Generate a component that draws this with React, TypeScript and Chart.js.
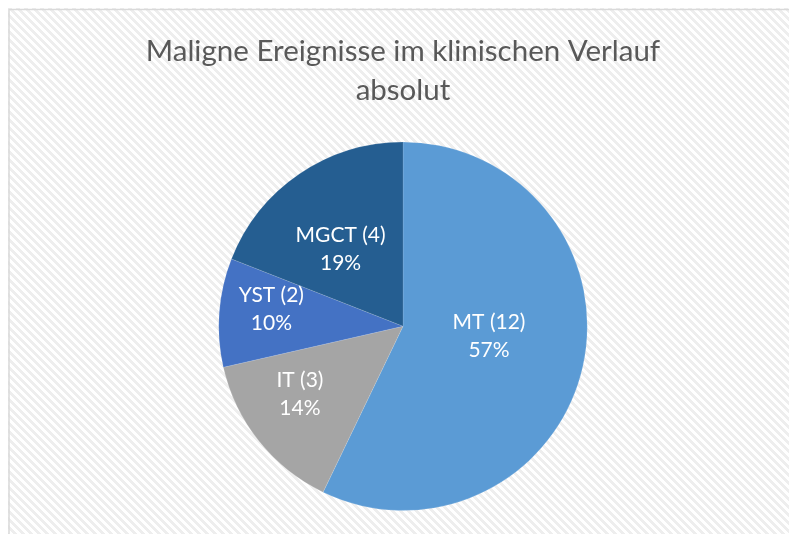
import React, { useEffect, useRef } from "react";
import { Chart, registerables } from "chart.js";

Chart.register(...registerables);

const titleLines = ["Maligne Ereignisse im klinischen Verlauf", "absolut"];
const categories = ["MT", "IT", "YST", "MGCT"];
const counts = [12, 3, 2, 4];
const percentLabels = ["57%", "14%", "10%", "19%"];
const sliceColors = ["#5B9BD5", "#A5A5A5", "#4472C4", "#255E91"];
const labelRadiusFractions = [0.47, 0.67, 0.72, 0.54];
const labelAngleShift = [-0.11, 0.09, 0.05, -0.08];

function makePattern(ctx: CanvasRenderingContext2D) {
  const tile = document.createElement("canvas");
  tile.width = 8;
  tile.height = 8;
  const t = tile.getContext("2d")!;
  t.fillStyle = "#ffffff";
  t.fillRect(0, 0, 8, 8);
  t.fillStyle = "#eeeeee";
  for (let y = 0; y < 8; y++) {
    for (let x = 0; x < 8; x++) {
      if ((((x - y) % 8) + 8) % 8 < 4) t.fillRect(x, y, 1, 1);
    }
  }
  return ctx.createPattern(tile, "repeat");
}

const backgroundPlugin = {
  id: "bgPattern",
  beforeDraw(chart: any) {
    const ctx = chart.ctx as CanvasRenderingContext2D;
    ctx.save();
    const p = makePattern(ctx);
    if (p) ctx.fillStyle = p;
    ctx.fillRect(0, 0, chart.width, chart.height);
    ctx.strokeStyle = "#d9d9d9";
    ctx.lineWidth = 1.5;
    ctx.beginPath();
    ctx.moveTo(1, chart.height);
    ctx.lineTo(1, 1.5);
    ctx.lineTo(chart.width, 1.5);
    ctx.stroke();
    ctx.restore();
  },
};

const sliceLabelPlugin = {
  id: "sliceLabels",
  afterDatasetsDraw(chart: any) {
    const ctx = chart.ctx as CanvasRenderingContext2D;
    const meta = chart.getDatasetMeta(0);
    ctx.save();
    ctx.fillStyle = "#ffffff";
    ctx.font = "21px Lato, 'Open Sans', sans-serif";
    ctx.textAlign = "center";
    ctx.textBaseline = "middle";
    meta.data.forEach((arc: any, i: number) => {
      const { x, y, startAngle, endAngle, outerRadius } = arc.getProps(
        ["x", "y", "startAngle", "endAngle", "outerRadius"],
        true
      );
      const mid = (startAngle + endAngle) / 2 + labelAngleShift[i];
      const r = outerRadius * labelRadiusFractions[i];
      const cx = x + Math.cos(mid) * r;
      const cy = y + Math.sin(mid) * r;
      ctx.fillText(`${categories[i]} (${counts[i]})`, cx, cy - 14);
      ctx.fillText(percentLabels[i], cx, cy + 14);
    });
    ctx.restore();
  },
};

export default function App() {
  const ref = useRef<HTMLCanvasElement>(null);
  useEffect(() => {
    document.documentElement.style.overflow = "hidden";
    document.body.style.overflow = "hidden";
    if (!ref.current) return;
    const chart = new Chart(ref.current, {
      type: "pie",
      data: {
        labels: categories,
        datasets: [
          {
            data: counts,
            backgroundColor: sliceColors,
            borderColor: "rgba(255,255,255,0.12)",
            borderWidth: 1,
          },
        ],
      },
      options: {
        animation: false,
        responsive: false,
        maintainAspectRatio: false,
        layout: { padding: { top: 0, bottom: 37, left: 10, right: 20 } },
        plugins: {
          legend: { display: false },
          tooltip: { enabled: false },
          title: {
            display: true,
            text: titleLines,
            color: "#595959",
            font: { family: "Lato, 'Open Sans', sans-serif", size: 29.5, weight: "normal", lineHeight: 1.33 },
            padding: { top: 24, bottom: 31 },
          },
        },
      },
      plugins: [backgroundPlugin, sliceLabelPlugin],
    });
    return () => chart.destroy();
  }, []);
  return (
    <div style={{ position: "fixed", left: 8, top: 8, width: 800, height: 540, overflow: "hidden" }}>
      <canvas ref={ref} width={800} height={540} style={{ display: "block" }} />
    </div>
  );
}
